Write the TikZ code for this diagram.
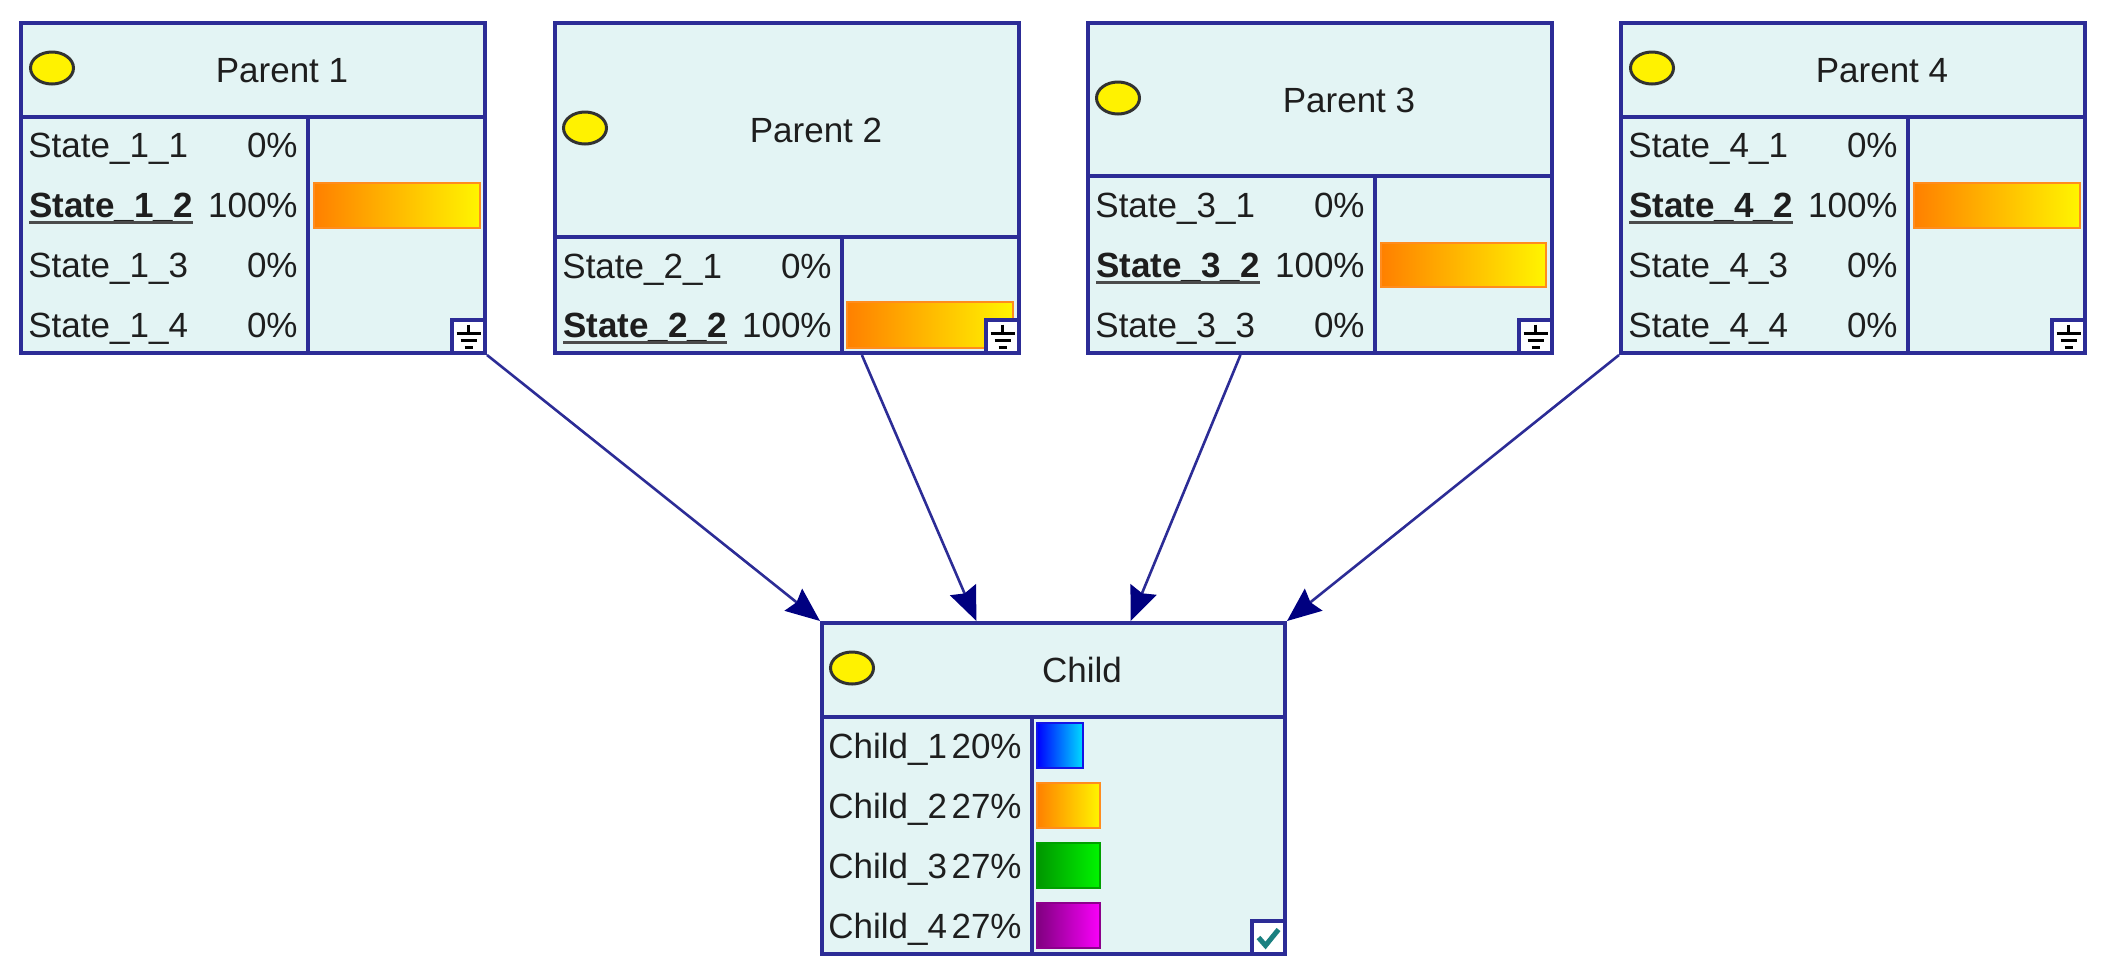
\documentclass[tikz,border=0pt]{standalone}
\usepackage{fontspec}
\setmainfont{Liberation Sans}
\usetikzlibrary{arrows.meta,fit,calc,shapes.geometric}
\definecolor{boxline}{RGB}{44,44,150}
\definecolor{boxfill}{RGB}{227,244,244}
\definecolor{textc}{RGB}{30,30,30}
\definecolor{headc}{RGB}{0,0,128}
\definecolor{lampline}{RGB}{50,50,50}
\definecolor{teal2}{RGB}{26,128,128}
\newcommand\gndicon[1]{%
  \draw[gndline] ([shift={(0,-12)}]#1.center) -- ([shift={(0,-3)}]#1.center);
  \draw[gndline] ([shift={(-12,-3)}]#1.center) -- ([shift={(12,-3)}]#1.center);
  \draw[gndline] ([shift={(-8,4)}]#1.center) -- ([shift={(8,4)}]#1.center);
  \draw[gndline] ([shift={(-4,11)}]#1.center) -- ([shift={(4,11)}]#1.center);}
\begin{document}
\begin{tikzpicture}[x=0.5pt,y=-0.5pt,
  nodebox/.style={rectangle, draw=boxline, line width=2pt, fill=boxfill, inner sep=0pt},
  divline/.style={draw=boxline, line width=2pt},
  iconbox/.style={rectangle, draw=boxline, line width=2pt, fill=white, inner sep=0pt},
  gndline/.style={draw=black, line width=1.3pt},
  txt/.style={inner sep=0pt, anchor=base west, text=textc, font=\fontsize{17.5}{20}\selectfont},
  btxt/.style={txt, font=\fontsize{17.5}{20}\selectfont\bfseries},
  pct/.style={inner sep=0pt, anchor=base east, text=textc, font=\fontsize{17.5}{20}\selectfont},
  ttl/.style={inner sep=0pt, anchor=base, text=textc, font=\fontsize{17.5}{20}\selectfont},
  ulline/.style={draw=textc!80!white, line width=1.5pt},
  lamp/.style={ellipse, draw=lampline, fill=yellow, line width=1.5pt, minimum width=21.5pt, minimum height=16pt, inner sep=0pt},
  obar/.style={rectangle, draw={rgb,255:red,255;green,140;blue,30}, line width=1pt, left color={rgb,255:red,255;green,128;blue,0}, right color={rgb,255:red,255;green,245;blue,0}, inner sep=0pt},
  bbar/.style={rectangle, draw={rgb,255:red,20;green,20;blue,230}, line width=1pt, left color={rgb,255:red,0;green,0;blue,255}, right color={rgb,255:red,0;green,220;blue,255}, inner sep=0pt},
  gbar/.style={rectangle, draw={rgb,255:red,0;green,160;blue,0}, line width=1pt, left color={rgb,255:red,0;green,150;blue,0}, right color={rgb,255:red,0;green,245;blue,0}, inner sep=0pt},
  pbar/.style={rectangle, draw={rgb,255:red,140;green,0;blue,140}, line width=1pt, left color={rgb,255:red,128;green,0;blue,128}, right color={rgb,255:red,250;green,0;blue,250}, inner sep=0pt},
  conn/.style={draw=boxline, line width=1.3pt, -{Stealth[length=17pt,width=14pt,inset=2pt,color=headc]}}
]
\useasboundingbox (0,0) rectangle (2109,976);

% ---------- Parent 1 ----------
\node[nodebox, fit={(21,23) (485,353)}] (p1) {};
\draw[divline] (21,117) -- (485,117);
\draw[divline] (308,117) -- (308,353);
\node[lamp] (p1lamp) at (52,68) {};
\node[ttl] (p1t) at (282,82) {Parent 1};
\node[txt] (p1s1) at (28,157) {State\_1\_1};
\node[pct] (p1v1) at (298,157) {0\%};
\node[btxt] (p1s2) at (29,217) {State\_1\_2};
\draw[ulline] ([yshift=-2.5pt]p1s2.base west) -- ([yshift=-2.5pt]p1s2.base east);
\node[pct] (p1v2) at (298,217) {100\%};
\node[txt] (p1s3) at (28,277) {State\_1\_3};
\node[pct] (p1v3) at (298,277) {0\%};
\node[txt] (p1s4) at (28,337) {State\_1\_4};
\node[pct] (p1v4) at (298,337) {0\%};
\node[obar, fit={(314,183) (480,228)}] (p1bar) {};
\node[iconbox, fit={(452,320) (485,353)}] (p1g) {};
\gndicon{p1g}

% ---------- Parent 2 ----------
\node[nodebox, fit={(555,23) (1019,353)}] (p2) {};
\draw[divline] (555,237) -- (1019,237);
\draw[divline] (842,237) -- (842,353);
\node[lamp] (p2lamp) at (585,128) {};
\node[ttl] (p2t) at (816,142) {Parent 2};
\node[txt] (p2s1) at (562,278) {State\_2\_1};
\node[pct] (p2v1) at (832,278) {0\%};
\node[btxt] (p2s2) at (563,337) {State\_2\_2};
\draw[ulline] ([yshift=-2.5pt]p2s2.base west) -- ([yshift=-2.5pt]p2s2.base east);
\node[pct] (p2v2) at (832,337) {100\%};
\node[obar, fit={(847,302) (1013,348)}] (p2bar) {};
\node[iconbox, fit={(986,320) (1019,353)}] (p2g) {};
\gndicon{p2g}

% ---------- Parent 3 ----------
\node[nodebox, fit={(1088,23) (1552,353)}] (p3) {};
\draw[divline] (1088,176) -- (1552,176);
\draw[divline] (1375,176) -- (1375,353);
\node[lamp] (p3lamp) at (1118,98) {};
\node[ttl] (p3t) at (1349,112) {Parent 3};
\node[txt] (p3s1) at (1095,217) {State\_3\_1};
\node[pct] (p3v1) at (1365,217) {0\%};
\node[btxt] (p3s2) at (1096,277) {State\_3\_2};
\draw[ulline] ([yshift=-2.5pt]p3s2.base west) -- ([yshift=-2.5pt]p3s2.base east);
\node[pct] (p3v2) at (1365,277) {100\%};
\node[txt] (p3s3) at (1095,337) {State\_3\_3};
\node[pct] (p3v3) at (1365,337) {0\%};
\node[obar, fit={(1381,243) (1546,287)}] (p3bar) {};
\node[iconbox, fit={(1519,320) (1552,353)}] (p3g) {};
\gndicon{p3g}

% ---------- Parent 4 ----------
\node[nodebox, fit={(1621,23) (2085,353)}] (p4) {};
\draw[divline] (1621,117) -- (2085,117);
\draw[divline] (1908,117) -- (1908,353);
\node[lamp] (p4lamp) at (1652,68) {};
\node[ttl] (p4t) at (1882,82) {Parent 4};
\node[txt] (p4s1) at (1628,157) {State\_4\_1};
\node[pct] (p4v1) at (1898,157) {0\%};
\node[btxt] (p4s2) at (1629,217) {State\_4\_2};
\draw[ulline] ([yshift=-2.5pt]p4s2.base west) -- ([yshift=-2.5pt]p4s2.base east);
\node[pct] (p4v2) at (1898,217) {100\%};
\node[txt] (p4s3) at (1628,277) {State\_4\_3};
\node[pct] (p4v3) at (1898,277) {0\%};
\node[txt] (p4s4) at (1628,337) {State\_4\_4};
\node[pct] (p4v4) at (1898,337) {0\%};
\node[obar, fit={(1914,183) (2080,228)}] (p4bar) {};
\node[iconbox, fit={(2052,320) (2085,353)}] (p4g) {};
\gndicon{p4g}

% ---------- Child ----------
\node[nodebox, fit={(822,623) (1285,954)}] (ch) {};
\draw[divline] (822,717) -- (1285,717);
\draw[divline] (1032,717) -- (1032,954);
\node[lamp] (chlamp) at (852,668) {};
\node[ttl] (cht) at (1082,682) {Child};
\node[txt] (chs1) at (828,758) {Child\_1};
\node[pct] (chv1) at (1022,758) {20\%};
\node[txt] (chs2) at (828,818) {Child\_2};
\node[pct] (chv2) at (1022,818) {27\%};
\node[txt] (chs3) at (828,878) {Child\_3};
\node[pct] (chv3) at (1022,878) {27\%};
\node[txt] (chs4) at (828,938) {Child\_4};
\node[pct] (chv4) at (1022,938) {27\%};
\node[bbar, fit={(1037,723) (1083,768)}] (chb1) {};
\node[obar, fit={(1037,783) (1100,828)}] (chb2) {};
\node[gbar, fit={(1037,843) (1100,888)}] (chb3) {};
\node[pbar, fit={(1037,903) (1100,948)}] (chb4) {};
\node[iconbox, fit={(1252,921) (1285,954)}] (chk) {};
\draw[teal2, line width=2.5pt] ([shift={(-10,0)}]chk.center) -- ([shift={(-3,8)}]chk.center) -- ([shift={(10,-8)}]chk.center);

% ---------- Connectors ----------
\draw[conn] (p1.south east) -- (ch.north west);
\draw[conn] ($(p2.south west)!0.66!(p2.south east)$) -- ($(ch.north west)!0.335!(ch.north east)$);
\draw[conn] ($(p3.south west)!0.33!(p3.south east)$) -- ($(ch.north west)!0.665!(ch.north east)$);
\draw[conn] (p4.south west) -- (ch.north east);
\end{tikzpicture}
\end{document}
